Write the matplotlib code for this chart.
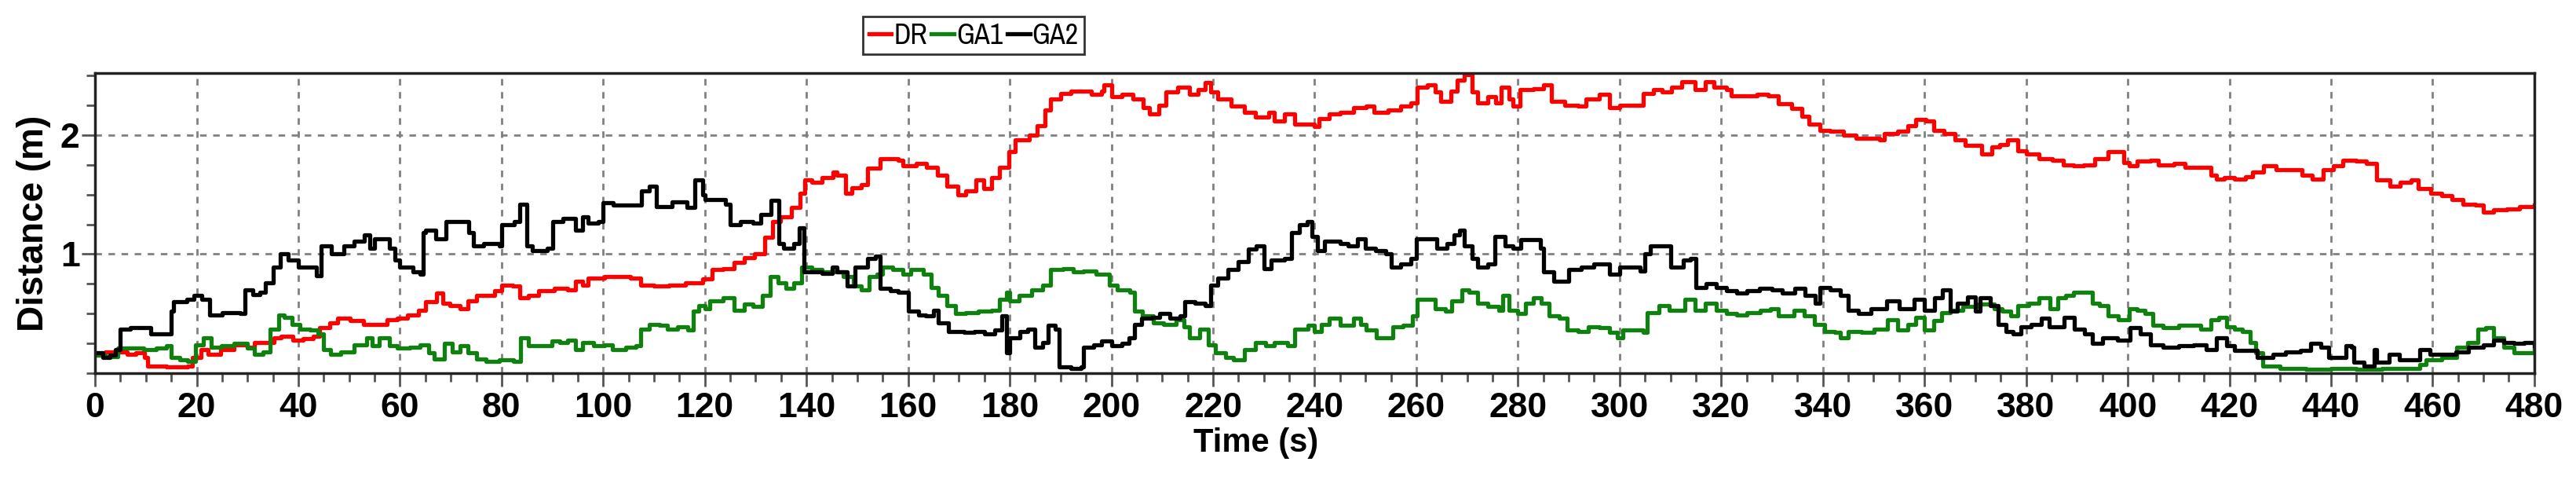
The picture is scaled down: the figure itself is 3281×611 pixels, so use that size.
import matplotlib
matplotlib.use("Agg")
import matplotlib.pyplot as plt
from matplotlib.ticker import MultipleLocator

plt.rcParams['font.family'] = ['Liberation Sans', 'DejaVu Sans']

# DR
t_dr = [0, 2, 4.5, 6.3, 8, 9.8, 10.3, 14, 18.2, 19.2, 20.8, 22.3, 24.7, 27.3, 30, 31.4, 34, 35.2, 36.6, 39,
        41, 43, 44.2, 46.2, 47.7, 50.2, 52.8, 55.3, 57.4, 59.5, 61.5, 63.6, 65, 67.2, 68.5, 69.8, 71.9, 73.4, 75, 77,
        78.6, 80, 82.2, 83.5, 85.3, 87.3, 90.4, 93, 94.5, 96, 97, 100.2, 103.3, 105.4, 107.4, 110, 113, 116.2, 119.5, 121.5,
        123.6, 125.7, 127.7, 129.8, 131.8, 133.3, 134.9, 137, 138.8, 139.6, 141, 143, 145.2, 146, 147.7, 149, 150.8, 152, 154.5, 156.5,
        158, 159, 161.6, 163.6, 165.7, 167.7, 169.8, 171.3, 173.3, 174.9, 176.4, 178, 179.8, 181, 182.3, 183.9, 185.4, 186.9, 188, 190,
        192, 194.5, 196.1, 198.1, 198.6, 200, 202, 204.2, 206.3, 207.5, 209.3, 210.8, 213, 215.3, 217, 218.4, 219.5, 221, 223.6, 226.2,
        228.3, 230.9, 232, 234, 236.1, 238.7, 240, 240.8, 242.8, 245, 247.6, 250.2, 251.7, 254.4, 257, 259, 260.1, 262.2, 263.7, 264.8,
        266.8, 268.1, 269.5, 271, 272, 274.1, 275.6, 276.7, 278.3, 279, 280.4, 283, 285.1, 286.6, 289.2, 291.8, 293.4, 296, 298, 300,
        303.7, 304.7, 306.7, 308.3, 310.3, 312.3, 314.9, 316.9, 318.5, 321, 322, 325.1, 327.1, 329.2, 331.2, 333.8, 335.8, 337.3, 339.4, 341.4,
        344, 346.5, 349, 351.1, 352.1, 354.7, 356.7, 358.3, 360.3, 361.8, 363.9, 366, 368, 371.2, 373.2, 374.8, 376.4, 378.4, 380, 382.6,
        385.2, 387.3, 389.4, 391.4, 393.5, 396.1, 398.2, 399.2, 400.3, 401.8, 404.4, 406, 409.1, 411.2, 414.3, 416.4, 417.4, 419, 421, 423.1,
        424.6, 426.7, 429.2, 432.3, 434.3, 436.3, 438.4, 440.4, 442.4, 445, 447, 449, 451.6, 453.6, 455.7, 457.2, 459.7, 461.8, 463.8, 465.9,
        468.4, 470, 472, 474.6, 477.1, 480]
dr = [0.15, 0.18, 0.18, 0.16, 0.17, 0.13, 0.06, 0.05, 0.06, 0.13, 0.20, 0.16, 0.20, 0.24, 0.22, 0.26, 0.26, 0.30, 0.31, 0.28,
      0.29, 0.31, 0.38, 0.42, 0.46, 0.44, 0.41, 0.41, 0.45, 0.46, 0.49, 0.53, 0.60, 0.67, 0.59, 0.57, 0.54, 0.61, 0.65, 0.65,
      0.69, 0.74, 0.73, 0.63, 0.65, 0.69, 0.71, 0.70, 0.77, 0.74, 0.80, 0.81, 0.81, 0.80, 0.74, 0.73, 0.74, 0.76, 0.79, 0.87,
      0.88, 0.93, 0.97, 1.00, 1.14, 1.27, 1.31, 1.39, 1.51, 1.62, 1.60, 1.64, 1.69, 1.66, 1.51, 1.56, 1.58, 1.72, 1.80, 1.80,
      1.79, 1.74, 1.76, 1.73, 1.66, 1.57, 1.50, 1.53, 1.62, 1.55, 1.64, 1.73, 1.86, 1.96, 1.96, 2.00, 2.08, 2.21, 2.30, 2.35,
      2.37, 2.37, 2.34, 2.37, 2.42, 2.32, 2.34, 2.30, 2.23, 2.18, 2.25, 2.36, 2.40, 2.34, 2.38, 2.44, 2.36, 2.30, 2.24, 2.19,
      2.15, 2.19, 2.12, 2.18, 2.09, 2.09, 2.07, 2.14, 2.18, 2.19, 2.23, 2.24, 2.19, 2.21, 2.24, 2.27, 2.40, 2.42, 2.36, 2.28,
      2.37, 2.46, 2.51, 2.36, 2.27, 2.32, 2.27, 2.40, 2.30, 2.24, 2.38, 2.39, 2.42, 2.28, 2.25, 2.24, 2.30, 2.34, 2.23, 2.25,
      2.25, 2.35, 2.38, 2.36, 2.40, 2.45, 2.38, 2.45, 2.40, 2.38, 2.33, 2.33, 2.34, 2.33, 2.26, 2.22, 2.16, 2.09, 2.04, 2.03,
      2.00, 1.97, 1.97, 1.96, 2.01, 2.03, 2.08, 2.13, 2.12, 2.04, 2.01, 1.96, 1.91, 1.84, 1.90, 1.92, 1.96, 1.87, 1.84, 1.80,
      1.79, 1.75, 1.74, 1.75, 1.80, 1.86, 1.86, 1.77, 1.74, 1.78, 1.79, 1.75, 1.76, 1.73, 1.73, 1.66, 1.63, 1.64, 1.63, 1.65,
      1.69, 1.74, 1.71, 1.71, 1.66, 1.63, 1.71, 1.74, 1.79, 1.78, 1.76, 1.62, 1.57, 1.60, 1.62, 1.55, 1.51, 1.49, 1.46, 1.42,
      1.41, 1.35, 1.37, 1.38, 1.40, 1.41]

# GA1
t_ga1 = [0, 2, 4.5, 7, 9.6, 12, 14.1, 15, 16.7, 18.2, 19.7, 21.3, 22.8, 24.8, 27.4, 30, 31.4, 33, 34.5, 36.2,
         37.2, 38.7, 40.3, 42.3, 43.9, 44.9, 46.3, 48.4, 50.9, 53.4, 54.6, 55.9, 58, 59.5, 62, 64, 65.7, 66.7, 68.8, 70.3,
         71.9, 73.4, 75, 77, 79.6, 82.4, 83.7, 85.3, 88.4, 89.9, 91.4, 93, 94.5, 96, 98.1, 100.2, 101.8, 104.4, 106.4, 107.4,
         109, 111, 112.6, 114.6, 116.7, 117.7, 118.8, 120, 121, 123.6, 125.7, 127.7, 129.5, 131.3, 132.9, 134.4, 136, 137.5, 139.1, 141,
         143, 145.2, 147.3, 149.2, 150.8, 152.3, 153.8, 155, 157, 159, 160.5, 163, 164.6, 166, 167.7, 169.3, 171.3, 173.8, 176.4, 178,
         179.3, 180, 181.8, 184.3, 186.4, 188, 190.5, 192.5, 194.5, 197, 198.5, 199.6, 201.1, 203.6, 204.6, 206.1, 208.2, 210.2, 212.8, 214.3,
         215.3, 217.4, 219, 220.4, 222.5, 224, 226.2, 228.3, 230.4, 232, 234.6, 236.1, 238.7, 240, 241.3, 242.8, 245, 247.6, 249.1, 250.2,
         252.2, 253.8, 255.4, 257.4, 259.2, 260.1, 262.2, 263.7, 265.8, 267, 268.9, 270.4, 272, 274.1, 276.2, 277, 278.3, 280, 281.5, 283,
         284.6, 286.2, 288.2, 289.7, 291.8, 293.9, 296, 298, 299.6, 300.6, 302.6, 304.7, 305.5, 307.8, 309.8, 312.9, 314.9, 316.9, 319, 321,
         323, 325.1, 327.7, 329.7, 331.2, 334.3, 336.3, 338.4, 340.4, 342.4, 343.5, 345, 347.6, 350.1, 352.7, 354.7, 356.7, 358.3, 360, 361.8,
         363.4, 365, 367.5, 370.6, 373.8, 375.3, 376.9, 378.4, 380.5, 382.6, 384.7, 386.2, 387.8, 389.4, 391.4, 393, 394.5, 396.1, 398.2, 400.3,
         401.8, 403.4, 404.9, 407, 410.1, 412.2, 414.3, 416.4, 417.9, 419.5, 421, 422.6, 424.1, 425.1, 426.5, 430, 435, 440, 445, 450,
         455, 457.5, 458.7, 461.8, 464.8, 466.9, 468.9, 470.4, 472, 474, 476, 478.1, 480]
ga1 = [0.15, 0.14, 0.21, 0.21, 0.20, 0.21, 0.23, 0.13, 0.11, 0.10, 0.24, 0.30, 0.22, 0.23, 0.25, 0.21, 0.16, 0.18, 0.37, 0.49,
       0.47, 0.41, 0.37, 0.36, 0.33, 0.20, 0.16, 0.18, 0.24, 0.30, 0.23, 0.30, 0.23, 0.21, 0.22, 0.24, 0.17, 0.12, 0.25, 0.18,
       0.23, 0.17, 0.12, 0.10, 0.11, 0.10, 0.30, 0.23, 0.23, 0.27, 0.26, 0.28, 0.20, 0.26, 0.23, 0.24, 0.20, 0.22, 0.23, 0.37,
       0.41, 0.40, 0.37, 0.39, 0.36, 0.52, 0.57, 0.54, 0.61, 0.63, 0.53, 0.58, 0.56, 0.65, 0.81, 0.76, 0.71, 0.76, 0.89, 0.87,
       0.85, 0.85, 0.81, 0.73, 0.70, 0.81, 0.83, 0.89, 0.87, 0.83, 0.87, 0.83, 0.72, 0.65, 0.57, 0.50, 0.51, 0.52, 0.53, 0.62,
       0.68, 0.61, 0.65, 0.70, 0.74, 0.87, 0.88, 0.85, 0.86, 0.83, 0.83, 0.74, 0.70, 0.68, 0.52, 0.48, 0.42, 0.41, 0.45, 0.39,
       0.30, 0.37, 0.24, 0.17, 0.13, 0.11, 0.20, 0.26, 0.23, 0.26, 0.23, 0.37, 0.40, 0.35, 0.41, 0.46, 0.40, 0.46, 0.41, 0.36,
       0.30, 0.30, 0.39, 0.40, 0.48, 0.62, 0.62, 0.54, 0.52, 0.61, 0.70, 0.68, 0.59, 0.56, 0.53, 0.65, 0.53, 0.50, 0.59, 0.63,
       0.59, 0.48, 0.46, 0.36, 0.35, 0.39, 0.38, 0.34, 0.30, 0.36, 0.36, 0.34, 0.51, 0.57, 0.53, 0.62, 0.53, 0.59, 0.53, 0.50,
       0.49, 0.51, 0.53, 0.54, 0.48, 0.53, 0.48, 0.41, 0.35, 0.34, 0.30, 0.35, 0.34, 0.37, 0.45, 0.36, 0.41, 0.47, 0.36, 0.44,
       0.51, 0.53, 0.56, 0.58, 0.54, 0.52, 0.48, 0.57, 0.59, 0.63, 0.54, 0.63, 0.65, 0.68, 0.68, 0.59, 0.57, 0.48, 0.45, 0.54,
       0.53, 0.50, 0.40, 0.38, 0.40, 0.40, 0.37, 0.45, 0.47, 0.39, 0.37, 0.35, 0.26, 0.17, 0.06, 0.04, 0.03, 0.04, 0.03, 0.04,
       0.04, 0.07, 0.11, 0.13, 0.22, 0.26, 0.37, 0.38, 0.30, 0.22, 0.17, 0.17, 0.20]

# GA2
t_ga2 = [0, 1.5, 3, 4, 5, 7, 10, 11, 14.5, 15, 15.5, 18, 19.5, 21, 22.5, 25, 28.5, 29.5, 31, 32.5,
         33.5, 35, 36.5, 38, 40, 42, 43.5, 44.5, 46.5, 49, 51, 53, 54, 55, 56.5, 58, 59, 60, 62.5, 64,
         64.5, 65, 67, 69, 71.5, 73.5, 74.5, 76.5, 79.5, 80, 82.5, 83.5, 84.5, 85, 86, 89, 90, 92, 94.5, 96,
         97, 99, 100, 102, 105.5, 107.5, 109, 110.5, 113.5, 116.5, 118, 119.5, 120, 122, 124, 125, 127, 129.5, 131, 133,
         134.5, 135.5, 137.5, 138.5, 139.5, 141, 143, 145, 146, 148, 149.5, 152, 153.5, 154.5, 156.5, 158, 160, 162, 163.5, 165,
         166, 168, 171, 173, 175, 177, 178.5, 179.3, 180, 182, 183.5, 185, 186.5, 187.5, 189, 189.7, 192, 194, 194.5, 196.5,
         198, 200, 202, 203.5, 204.5, 206, 208, 209.5, 211.5, 213.5, 214.5, 216.5, 218.5, 219.5, 221, 223, 225, 227, 228.5, 230,
         231.5, 234, 235.5, 237, 238.5, 239.5, 240.5, 242, 245, 246.5, 248.5, 250, 252, 254, 255, 257, 259, 260, 262.5, 264,
         266, 267.5, 268.5, 269.5, 271, 272, 274, 275.5, 277.5, 279, 280.5, 283.5, 284.5, 285, 287, 289, 290, 292.5, 295, 298,
         300, 304, 305, 306, 308, 310, 312.5, 314, 315, 317, 319, 321, 323, 325, 327.5, 330, 332, 334.5, 336.5, 338.5,
         339.5, 341.5, 343.5, 345, 347, 349.5, 352.5, 355, 358, 360, 362, 363.5, 365, 366.5, 368.5, 370, 371, 373, 374.5, 376,
         377.5, 379, 381, 383, 384.5, 387.5, 389.5, 391.5, 393, 395, 398, 400.5, 402.5, 404.5, 407, 410, 413, 415.5, 417.5, 419.5,
         421, 424, 425.5, 428.5, 431, 434, 436, 438, 439.5, 441.5, 443, 444, 444.5, 446.5, 448.5, 449, 451.5, 453.5, 457.5, 459.5,
         462, 464.5, 467, 470, 472, 474, 476, 478, 480]
ga2 = [0.17, 0.13, 0.15, 0.20, 0.37, 0.38, 0.38, 0.33, 0.33, 0.52, 0.60, 0.62, 0.65, 0.62, 0.49, 0.51, 0.50, 0.70, 0.66, 0.68,
       0.76, 0.89, 1.00, 0.95, 0.89, 0.89, 0.82, 1.07, 1.00, 1.07, 1.11, 1.16, 1.05, 1.13, 1.13, 1.05, 0.95, 0.89, 0.85, 0.83,
       1.18, 1.20, 1.13, 1.27, 1.27, 1.18, 1.07, 1.09, 1.07, 1.25, 1.27, 1.42, 1.42, 1.07, 1.03, 1.05, 1.27, 1.30, 1.20, 1.31,
       1.26, 1.27, 1.43, 1.41, 1.41, 1.53, 1.57, 1.40, 1.44, 1.39, 1.62, 1.50, 1.46, 1.46, 1.42, 1.25, 1.27, 1.26, 1.33, 1.45,
       1.09, 1.05, 1.09, 1.22, 0.85, 0.85, 0.84, 0.89, 0.85, 0.73, 0.89, 0.96, 0.98, 0.71, 0.69, 0.68, 0.52, 0.49, 0.48, 0.53,
       0.42, 0.35, 0.34, 0.35, 0.33, 0.36, 0.48, 0.17, 0.30, 0.35, 0.37, 0.22, 0.26, 0.40, 0.37, 0.05, 0.04, 0.05, 0.22, 0.24,
       0.27, 0.23, 0.25, 0.30, 0.41, 0.46, 0.47, 0.50, 0.46, 0.48, 0.60, 0.59, 0.57, 0.74, 0.80, 0.87, 0.94, 1.04, 1.07, 0.88,
       0.95, 0.96, 1.18, 1.25, 1.27, 1.15, 1.03, 1.11, 1.09, 1.07, 1.13, 1.05, 1.03, 1.00, 0.89, 0.92, 0.96, 1.13, 1.13, 1.05,
       1.09, 1.16, 1.20, 1.07, 0.96, 0.89, 0.92, 1.15, 1.07, 1.05, 1.12, 1.12, 1.05, 0.85, 0.77, 0.77, 0.87, 0.89, 0.92, 0.83,
       0.89, 0.86, 1.00, 1.07, 1.07, 0.89, 0.95, 0.96, 0.72, 0.75, 0.72, 0.69, 0.67, 0.69, 0.71, 0.70, 0.67, 0.71, 0.65, 0.59,
       0.72, 0.70, 0.65, 0.53, 0.50, 0.54, 0.61, 0.54, 0.62, 0.53, 0.63, 0.70, 0.52, 0.59, 0.64, 0.52, 0.63, 0.57, 0.41, 0.35,
       0.33, 0.39, 0.41, 0.46, 0.39, 0.47, 0.37, 0.33, 0.25, 0.30, 0.28, 0.38, 0.33, 0.24, 0.22, 0.23, 0.24, 0.20, 0.30, 0.23,
       0.19, 0.19, 0.13, 0.16, 0.18, 0.19, 0.25, 0.22, 0.13, 0.13, 0.23, 0.22, 0.09, 0.06, 0.20, 0.09, 0.16, 0.11, 0.20, 0.16,
       0.16, 0.18, 0.22, 0.24, 0.28, 0.26, 0.25, 0.26, 0.23]

fig = plt.figure(figsize=(32.81, 6.11), dpi=100)
ax = fig.add_axes([0.0369, 0.2226, 0.9469, 0.6252])

lw = 3.8
ax.plot(t_dr, dr, drawstyle='steps-post', color='#ff0000', lw=lw, label='DR')
ax.plot(t_ga1, ga1, drawstyle='steps-post', color='#108010', lw=lw, label='GA1')
ax.plot(t_ga2, ga2, drawstyle='steps-post', color='black', lw=lw, label='GA2')

ax.set_xlim(0, 480)
ax.set_ylim(0, 2.52)
ax.set_xticks(range(0, 481, 20))
ax.set_yticks([1, 2])
ax.xaxis.set_minor_locator(MultipleLocator(5))
ax.yaxis.set_minor_locator(MultipleLocator(0.25))
ax.tick_params(which='major', direction='out', length=12, width=2, color='#555555',
               labelsize=32, pad=5)
ax.tick_params(axis='y', which='major', pad=2)
ax.tick_params(which='minor', direction='out', length=8, width=2, color='#555555')
for lab in ax.get_xticklabels() + ax.get_yticklabels():
    lab.set_fontweight('bold')

ax.grid(True, which='major', linestyle=(0, (3, 3)), color='#808080', lw=2)
for s in ax.spines.values():
    s.set_linewidth(2.5)
    s.set_color('#222222')

ax.set_xlabel('Time (s)', fontsize=30, fontweight='bold')
ax.set_ylabel('Distance (m)', fontsize=33, fontweight='bold')
ax.xaxis.set_label_coords(0.476, -0.18)
ax.yaxis.set_label_coords(-0.018, 0.5)

leg = fig.legend(loc='center', bbox_to_anchor=(0.378, 0.926), ncol=3, frameon=True,
                 fancybox=False, edgecolor='black', handlelength=0.8, handletextpad=0.08,
                 columnspacing=0.15, borderpad=0.2, borderaxespad=0,
                 prop={'family': ['Liberation Sans Narrow', 'Archivo Narrow', 'Liberation Sans'],
                       'size': 26})
leg.get_frame().set_linewidth(2)

fig.savefig('out.png', dpi=100)
